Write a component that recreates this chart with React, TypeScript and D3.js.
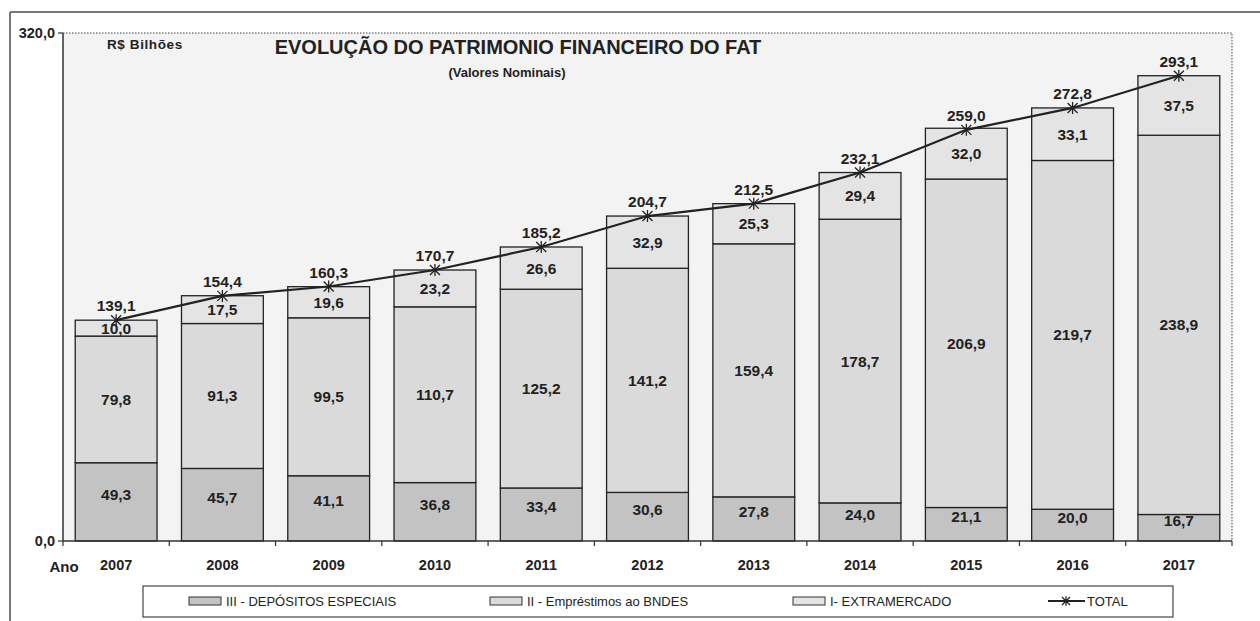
import React, { useEffect, useRef } from 'react';
import * as d3 from 'd3';

// Anos e séries (R$ bilhões)
const years = ['2007', '2008', '2009', '2010', '2011', '2012', '2013', '2014', '2015', '2016', '2017'];
const depositosEspeciais = [49.3, 45.7, 41.1, 36.8, 33.4, 30.6, 27.8, 24.0, 21.1, 20.0, 16.7];
const emprestimosBndes = [79.8, 91.3, 99.5, 110.7, 125.2, 141.2, 159.4, 178.7, 206.9, 219.7, 238.9];
const extramercado = [10.0, 17.5, 19.6, 23.2, 26.6, 32.9, 25.3, 29.4, 32.0, 33.1, 37.5];
const totals = [139.1, 154.4, 160.3, 170.7, 185.2, 204.7, 212.5, 232.1, 259.0, 272.8, 293.1];
const yTicks = [0, 320];

const seriesNames = ['III - DEPÓSITOS ESPECIAIS', 'II - Empréstimos ao BNDES', 'I- EXTRAMERCADO'];
const seriesColors = ['#c3c3c3', '#dadada', '#e4e4e4'];

const FONT = '"Liberation Sans", Arial, sans-serif';

const App = () => {
    const ref = useRef<SVGSVGElement>(null);

    useEffect(() => {
        const svg = d3.select(ref.current);
        svg.selectAll('*').remove();

        const width = 1260;
        const height = 621;
        const margin = { top: 33, right: 28, bottom: 80, left: 63 };
        const innerW = width - margin.left - margin.right;
        const innerH = height - margin.top - margin.bottom;

        const locale = d3.formatLocale({ decimal: ',', thousands: '.', grouping: [3], currency: ['R$', ''] });
        const fmt = locale.format('.1f');

        // moldura externa
        svg.append('line').attr('x1', 10).attr('y1', 12).attr('x2', width).attr('y2', 12)
            .attr('stroke', '#777').attr('stroke-width', 2);
        svg.append('line').attr('x1', 10).attr('y1', 12).attr('x2', 10).attr('y2', height)
            .attr('stroke', '#777').attr('stroke-width', 2);

        const g = svg.append('g').attr('transform', `translate(${margin.left},${margin.top})`);

        const x = d3.scaleBand().domain(years).range([0, innerW]).paddingInner(0.23).paddingOuter(0.115);
        const y = d3.scaleLinear().domain([0, 320]).range([innerH, 0]);

        // fundo da área de plotagem
        g.append('rect').attr('width', innerW).attr('height', innerH).attr('fill', '#f3f3f3');
        g.append('path')
            .attr('d', `M0,0H${innerW}V${innerH}`)
            .attr('fill', 'none').attr('stroke', '#444').attr('stroke-dasharray', '1.5,1.5');

        const rows = years.map((yr, i) => ({
            year: yr,
            s0: depositosEspeciais[i],
            s1: emprestimosBndes[i],
            s2: extramercado[i],
        }));
        const stack = d3.stack<any>().keys(['s0', 's1', 's2']);
        const layers = stack(rows);

        layers.forEach((layer, li) => {
            const lg = g.append('g');
            lg.selectAll('rect')
                .data(layer)
                .enter()
                .append('rect')
                .attr('x', d => x(d.data.year)!)
                .attr('y', d => y(d[1]))
                .attr('width', x.bandwidth())
                .attr('height', d => y(d[0]) - y(d[1]))
                .attr('fill', seriesColors[li])
                .attr('stroke', '#222')
                .attr('stroke-width', 1.3);

            lg.selectAll('text')
                .data(layer)
                .enter()
                .append('text')
                .attr('x', d => x(d.data.year)! + x.bandwidth() / 2)
                .attr('y', d => (y(d[0]) + y(d[1])) / 2 + (li === 0 ? -2 : 5.5))
                .attr('text-anchor', 'middle')
                .attr('font-family', FONT)
                .attr('font-weight', 'bold')
                .attr('font-size', 15.5)
                .attr('fill', '#222')
                .text(d => fmt(d.data[layer.key]));
        });

        // linha do total
        const cx = (yr: string) => x(yr)! + x.bandwidth() / 2;
        const line = d3.line<number>().x((_, i) => cx(years[i])).y(d => y(d));
        g.append('path').datum(totals).attr('d', line)
            .attr('fill', 'none').attr('stroke', '#222').attr('stroke-width', 2.2);

        const star = (sel: any, px: number, py: number, r: number) => {
            sel.append('path')
                .attr('d', `M${px - r},${py - r}L${px + r},${py + r}M${px - r},${py + r}L${px + r},${py - r}M${px},${py - r * 1.2}L${px},${py + r * 1.2}`)
                .attr('stroke', '#222').attr('stroke-width', 1.3).attr('fill', 'none');
        };
        totals.forEach((t, i) => star(g, cx(years[i]), y(t), 5));

        g.selectAll('.tot')
            .data(totals)
            .enter()
            .append('text')
            .attr('x', (_, i) => cx(years[i]))
            .attr('y', d => y(d) - 9)
            .attr('text-anchor', 'middle')
            .attr('font-family', FONT)
            .attr('font-weight', 'bold')
            .attr('font-size', 15.5)
            .attr('fill', '#222')
            .text(d => fmt(d));

        // eixos
        g.append('line').attr('x1', 0).attr('x2', 0).attr('y1', 0).attr('y2', innerH)
            .attr('stroke', '#333').attr('stroke-width', 1.5);
        g.append('line').attr('x1', 0).attr('x2', innerW).attr('y1', innerH).attr('y2', innerH)
            .attr('stroke', '#333').attr('stroke-width', 1.5);

        yTicks.forEach(t => {
            g.append('line').attr('x1', -5).attr('x2', 0).attr('y1', y(t)).attr('y2', y(t))
                .attr('stroke', '#333').attr('stroke-width', 1.2);
            g.append('text').attr('x', -8).attr('y', y(t) + 5)
                .attr('text-anchor', 'end').attr('font-family', FONT).attr('font-weight', 'bold')
                .attr('font-size', 14.5).attr('fill', '#222').text(fmt(t));
        });

        d3.range(years.length + 1).forEach(k => {
            const px = k * innerW / years.length;
            g.append('line').attr('x1', px).attr('x2', px).attr('y1', innerH).attr('y2', innerH + 5)
                .attr('stroke', '#333').attr('stroke-width', 1.2);
        });

        g.selectAll('.yr')
            .data(years)
            .enter()
            .append('text')
            .attr('x', d => cx(d))
            .attr('y', innerH + 29)
            .attr('text-anchor', 'middle')
            .attr('font-family', FONT)
            .attr('font-weight', 'bold')
            .attr('font-size', 14.5)
            .attr('fill', '#222')
            .text(d => d);

        g.append('text').attr('x', 1).attr('y', innerH + 31).attr('text-anchor', 'middle')
            .attr('font-family', FONT).attr('font-weight', 'bold').attr('font-size', 15)
            .attr('fill', '#222').text('Ano');

        // títulos
        g.append('text').attr('x', 44).attr('y', 16).attr('font-family', FONT).attr('font-weight', 'bold')
            .attr('font-size', 13.5).attr('letter-spacing', 0.6).attr('fill', '#222').text('R$ Bilhões');
        g.append('text').attr('x', 455).attr('y', 21).attr('text-anchor', 'middle')
            .attr('font-family', FONT).attr('font-weight', 'bold').attr('font-size', 20)
            .attr('fill', '#222').text('EVOLUÇÃO DO PATRIMONIO FINANCEIRO DO FAT');
        g.append('text').attr('x', 444).attr('y', 44).attr('text-anchor', 'middle')
            .attr('font-family', FONT).attr('font-weight', 'bold').attr('font-size', 13)
            .attr('fill', '#222').text('(Valores Nominais)');

        // legenda
        const lgd = svg.append('g');
        lgd.append('rect').attr('x', 143).attr('y', 586).attr('width', 1030).attr('height', 31)
            .attr('fill', 'white').attr('stroke', '#444').attr('stroke-width', 1.2);
        const itemX = [189, 490, 793];
        seriesNames.forEach((name, i) => {
            lgd.append('rect').attr('x', itemX[i]).attr('y', 597).attr('width', 32).attr('height', 8)
                .attr('fill', seriesColors[i]).attr('stroke', '#333').attr('stroke-width', 1);
            lgd.append('text').attr('x', itemX[i] + 37).attr('y', 606)
                .attr('font-family', FONT).attr('font-size', 13).attr('fill', '#222').text(name);
        });
        lgd.append('line').attr('x1', 1048).attr('x2', 1085).attr('y1', 601).attr('y2', 601)
            .attr('stroke', '#222').attr('stroke-width', 2);
        star(lgd, 1066, 601, 4);
        lgd.append('text').attr('x', 1087).attr('y', 606)
            .attr('font-family', FONT).attr('font-size', 13).attr('fill', '#222').text('TOTAL');
    }, []);

    return (
        <svg ref={ref} width={1260} height={621} style={{ position: 'absolute', left: 0, top: 0, background: 'white' }} />
    );
};

export default App;
